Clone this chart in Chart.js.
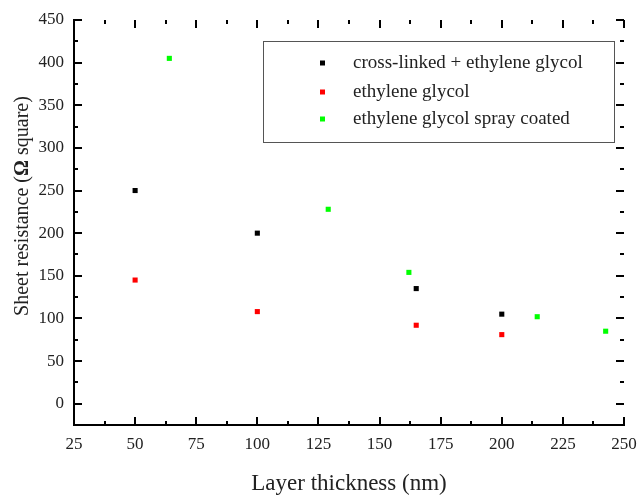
<!DOCTYPE html>
<html>
<head>
<meta charset="utf-8">
<script src="https://cdn.jsdelivr.net/npm/chart.js@4"></script>
<style>
  html, body { margin: 0; padding: 0; background: #fff; }
  #wrap { width: 638px; height: 498px; }
</style>
</head>
<body>
<div id="wrap"><canvas id="sheetChart"></canvas></div>
<script>
const FONT = "'Liberation Serif', serif";

// series
const crossLinkedX = [50, 100, 165, 200];
const crossLinkedY = [250, 200, 135, 105];
const glycolX = [50, 100, 165, 200];
const glycolY = [145, 108, 92, 81];
const sprayX = [64, 129, 162, 214.5, 242.5];
const sprayY = [405, 228, 154, 102, 85];

const xTicks = [25, 50, 75, 100, 125, 150, 175, 200, 225, 250];
const yTicks = [0, 50, 100, 150, 200, 250, 300, 350, 400, 450];

const seriesNames = ["cross-linked + ethylene glycol", "ethylene glycol", "ethylene glycol spray coated"];
const seriesColors = ["#000000", "#ff0000", "#00ff00"];

const toPoints = (xs, ys) => xs.map((x, i) => ({ x: x, y: ys[i] }));

// inward ticks on all four sides, majors + minors half way
const insideTicks = {
    id: "insideTicks",
    afterDraw(chart) {
        const ctx = chart.ctx;
        const { left, right, top, bottom } = chart.chartArea;
        const xs = chart.scales.x, ys = chart.scales.y;
        ctx.save();
        ctx.strokeStyle = "#000";
        ctx.lineWidth = 2;
        ctx.beginPath();
        xTicks.forEach((v, i) => {
            const px = Math.round(xs.getPixelForValue(v));
            ctx.moveTo(px, bottom); ctx.lineTo(px, bottom - 8);
            ctx.moveTo(px, top); ctx.lineTo(px, top + 8);
            if (i < xTicks.length - 1) {
                const mx = Math.round(xs.getPixelForValue(v + 12.5));
                ctx.moveTo(mx, bottom); ctx.lineTo(mx, bottom - 4);
                ctx.moveTo(mx, top); ctx.lineTo(mx, top + 4);
            }
        });
        yTicks.forEach((v) => {
            const py = Math.round(ys.getPixelForValue(v));
            ctx.moveTo(left, py); ctx.lineTo(left + 8, py);
            ctx.moveTo(right, py); ctx.lineTo(right - 8, py);
            const my = Math.round(ys.getPixelForValue(v - 25));
            ctx.moveTo(left, my); ctx.lineTo(left + 4, my);
            ctx.moveTo(right, my); ctx.lineTo(right - 4, my);
        });
        ctx.stroke();
        ctx.restore();
    }
};

// boxed legend inside the plot, top right
const boxLegend = {
    id: "boxLegend",
    afterDraw(chart) {
        const ctx = chart.ctx;
        ctx.save();
        ctx.strokeStyle = "#555";
        ctx.lineWidth = 1;
        ctx.fillStyle = "#fff";
        ctx.fillRect(263, 41, 351, 101);
        ctx.strokeRect(263.5, 41.5, 351, 101);
        ctx.font = "19px " + FONT;
        ctx.textBaseline = "middle";
        const rows = [63, 92, 119];
        chart.data.datasets.forEach((ds, i) => {
            ctx.fillStyle = ds.backgroundColor;
            ctx.fillRect(320, rows[i] - 2.5, 5, 5);
            ctx.fillStyle = "#222";
            ctx.fillText(ds.label, 353, rows[i]);
        });
        ctx.restore();
    }
};

// y title with bold omega, like the original
const yTitle = {
    id: "yTitle",
    afterDraw(chart) {
        const ctx = chart.ctx;
        const parts = [["Sheet resistance (", "20px " + FONT], ["Ω", "bold 20px " + FONT], [" square)", "20px " + FONT]];
        ctx.save();
        ctx.translate(23, 206);
        ctx.rotate(-Math.PI / 2);
        ctx.fillStyle = "#222";
        ctx.textBaseline = "middle";
        let total = 0;
        parts.forEach(([t, f]) => { ctx.font = f; total += ctx.measureText(t).width; });
        let x = -total / 2;
        parts.forEach(([t, f]) => {
            ctx.font = f;
            ctx.fillText(t, x, 0);
            x += ctx.measureText(t).width;
        });
        ctx.restore();
    }
};

const ctx = document.getElementById("sheetChart").getContext("2d");
new Chart(ctx, {
    type: "scatter",
    data: {
        datasets: [
            { label: seriesNames[0], data: toPoints(crossLinkedX, crossLinkedY) },
            { label: seriesNames[1], data: toPoints(glycolX, glycolY) },
            { label: seriesNames[2], data: toPoints(sprayX, sprayY) }
        ].map((d, i) => Object.assign(d, {
            backgroundColor: seriesColors[i],
            borderColor: seriesColors[i],
            borderWidth: 0,
            pointStyle: "rect",
            pointRadius: 3.6,
            pointHoverRadius: 3.6
        }))
    },
    options: {
        responsive: true,
        maintainAspectRatio: false,
        animation: false,
        layout: { padding: { top: 20, right: 14, left: 0, bottom: 0 } },
        scales: {
            x: {
                type: "linear",
                min: 25,
                max: 250,
                afterFit: (s) => { s.height = 73; s.paddingLeft = 0; s.paddingRight = 0; },
                afterBuildTicks: (s) => { s.ticks = xTicks.map(v => ({ value: v })); },
                grid: { display: false, drawTicks: false },
                border: { display: true, color: "#000", width: 2 },
                ticks: { padding: 9, color: "#222", font: { family: FONT, size: 17 } },
                title: {
                    display: true,
                    text: "Layer thickness (nm)",
                    color: "#222",
                    font: { family: FONT, size: 23 },
                    padding: { top: 0, bottom: 0 }
                }
            },
            y: {
                type: "linear",
                min: -25,
                max: 450,
                afterFit: (s) => { s.width = 74; s.paddingTop = 0; s.paddingBottom = 0; },
                afterBuildTicks: (s) => { s.ticks = yTicks.map(v => ({ value: v })); },
                grid: { display: false, drawTicks: false },
                border: { display: true, color: "#000", width: 2 },
                ticks: { padding: 10, color: "#222", font: { family: FONT, size: 17 } },
                title: { display: false }
            }
        },
        plugins: {
            legend: { display: false },
            tooltip: { enabled: false }
        }
    },
    plugins: [insideTicks, boxLegend, yTitle]
});
</script>
</body>
</html>
